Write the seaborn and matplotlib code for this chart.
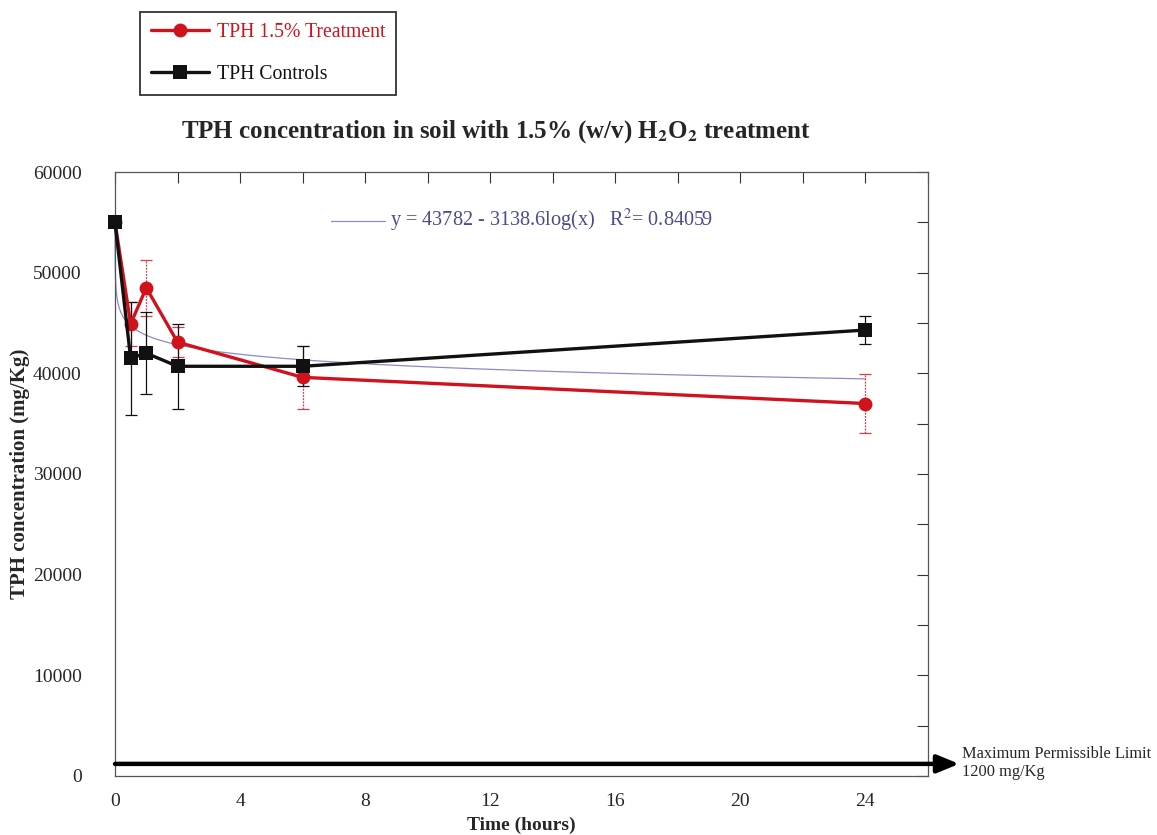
import numpy as np
import pandas as pd
import matplotlib
matplotlib.use("Agg")
import matplotlib.pyplot as plt
import seaborn as sns
from matplotlib.ticker import MultipleLocator

# Sampling times (hours)
time_h = [0, 0.5, 1, 2, 6, 24]

# TPH concentration (mg/Kg) and standard deviations
treatment_mean = [55000, 44900, 48500, 43100, 39600, 37000]
treatment_sd = [0, 2200, 2800, 1500, 3100, 2900]
control_mean = [55000, 41500, 42000, 40700, 40700, 44300]
control_sd = [0, 5600, 4100, 4200, 2000, 1400]

series_names = ["TPH 1.5% Treatment", "TPH Controls"]

# Logarithmic fit of the treatment series: y = a + b*log10(x)
fit_a = 43782
fit_b = -3138.6
fit_r2 = 0.84059

limit_value = 1200

RED = "#d0121c"
BLACK = "#111111"
FIT = "#8a8ad0"
FIT_TEXT = "#4b4b92"

sns.set_theme(style="white")
plt.rcParams["font.family"] = ["Liberation Serif", "DejaVu Serif"]
plt.rcParams["mathtext.fontset"] = "stix"

fig = plt.figure(figsize=(11.57, 8.35), dpi=100)
ax = fig.add_axes([0.0994, 0.0707, 0.7026, 0.7233])

df = pd.DataFrame({
    "time": time_h * 2,
    "tph": treatment_mean + control_mean,
    "series": [series_names[0]] * len(time_h) + [series_names[1]] * len(time_h),
})

# fitted curve
x_fit = np.geomspace(0.0004, 24, 300)
fit_df = pd.DataFrame({"time": x_fit, "tph": fit_a + fit_b * np.log10(x_fit)})
sns.lineplot(data=fit_df, x="time", y="tph", color=FIT, lw=0.9, ax=ax, zorder=2)

# error bars (treatment bars drawn fine and dotted)
eb_t = ax.errorbar(time_h, treatment_mean, yerr=treatment_sd, fmt="none", ecolor="#dc3a44",
                   elinewidth=0.9, capsize=4, capthick=0.9, zorder=3)
for col in eb_t[2]:
    col.set_linestyle((0, (1.5, 1)))
ax.errorbar(time_h, control_mean, yerr=control_sd, fmt="none", ecolor=BLACK,
            elinewidth=0.9, capsize=4, capthick=0.9, zorder=3)

sns.lineplot(data=df, x="time", y="tph", hue="series", style="series",
             palette={series_names[0]: RED, series_names[1]: BLACK},
             markers={series_names[0]: "o", series_names[1]: "s"},
             dashes=False, markersize=10, markeredgewidth=0, lw=2.4,
             ax=ax, zorder=4, legend=True)
for ln in ax.lines:
    ln.set_clip_on(False)

ax.set_xlim(0, 26)
ax.set_ylim(0, 60000)
ax.xaxis.set_major_locator(MultipleLocator(4))
ax.xaxis.set_minor_locator(MultipleLocator(2))
ax.yaxis.set_major_locator(MultipleLocator(10000))
ax.yaxis.set_minor_locator(MultipleLocator(5000))
ax.tick_params(which="both", direction="in", top=True, right=True,
               length=8, width=0.8, color="#333333", labelsize=14)
ax.tick_params(axis="x", pad=12)
ax.tick_params(axis="y", pad=24)
for s in ax.spines.values():
    s.set_color("#555555")
    s.set_linewidth(0.9)

ax.set_xlabel("Time (hours)", fontsize=14, fontweight="bold", labelpad=5)
ax.set_ylabel("TPH concentration (mg/Kg)", fontsize=15, fontweight="bold")
ax.yaxis.set_label_coords(-0.104, 0.5)
ax.set_title(r"TPH concentration in soil with 1.5% (w/v) H$_{\mathbf{2}}$O$_{\mathbf{2}}$ treatment",
             fontsize=18, fontweight="bold", pad=25, x=0.469)

# fit equation with its own line sample
ax.plot([6.9, 8.65], [55150, 55150], color=FIT, lw=0.9, zorder=2)
ax.text(8.8, 55150, r"y = 43782 - 3138.6log(x)   R$^2$= 0.84059",
        color=FIT_TEXT, fontsize=14.6, va="center", ha="left")

# maximum permissible limit arrow
ax.annotate("", xy=(27.0, limit_value), xytext=(0, limit_value),
            xycoords="data", textcoords="data", annotation_clip=False,
            arrowprops=dict(arrowstyle="-|>,head_length=1.1,head_width=0.45",
                            color="black", lw=3.2, shrinkA=0, shrinkB=0))
ax.text(27.08, limit_value + 50, "Maximum Permissible Limit\n1200 mg/Kg",
        fontsize=11.8, va="center", ha="left", linespacing=1.15, clip_on=False)

# legend above the plot
handles, labels = ax.get_legend_handles_labels()
ax.get_legend().remove()
leg = fig.legend(handles, labels, loc="upper left",
                 bbox_to_anchor=(0.121, 0.986), frameon=True, fancybox=False,
                 fontsize=14.2, handlelength=2.9, labelspacing=1.15,
                 borderpad=0.58, handletextpad=0.4, borderaxespad=0)
leg.get_frame().set_edgecolor("black")
leg.get_frame().set_linewidth(1.3)
for txt, col in zip(leg.get_texts(), [RED, BLACK]):
    txt.set_color(col)

fig.savefig("out.png", dpi=100, facecolor="white")
